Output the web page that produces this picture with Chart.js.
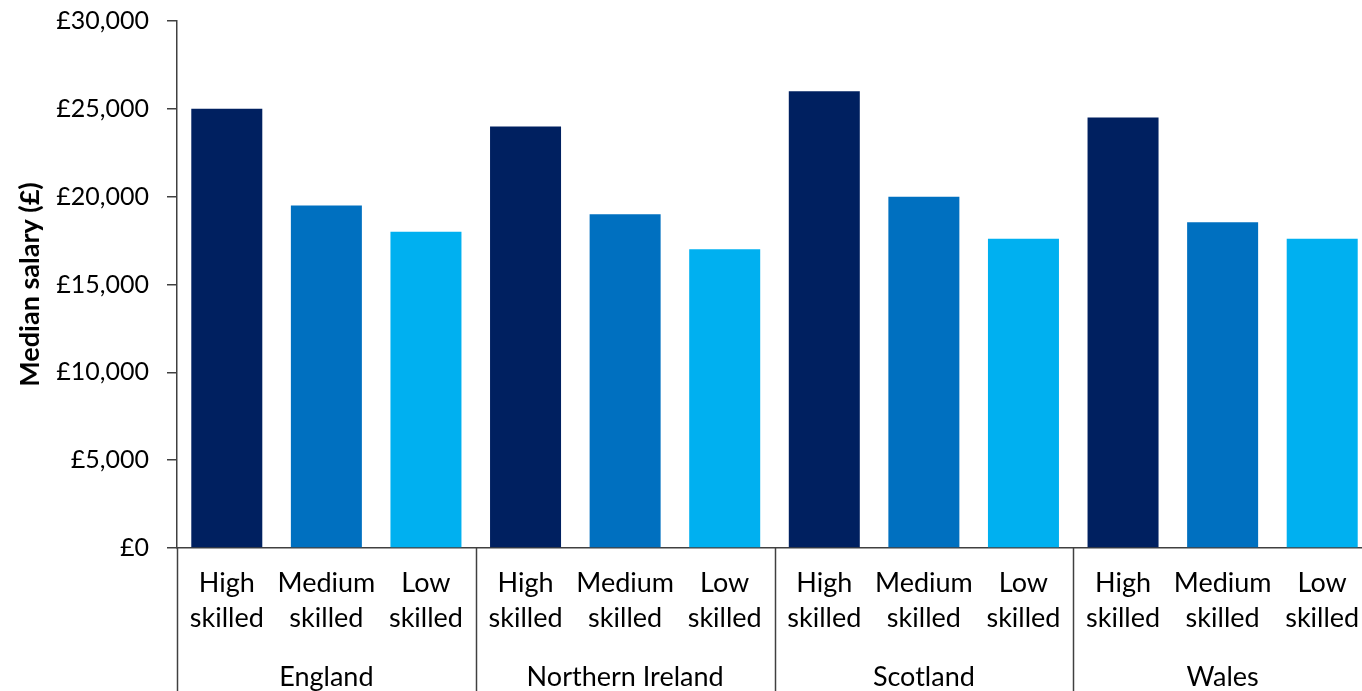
<!DOCTYPE html>
<html>
<head>
<meta charset="utf-8">
<script src="https://cdn.jsdelivr.net/npm/chart.js@4.4.2/dist/chart.umd.min.js"></script>
<style>
  html, body { margin: 0; padding: 0; background: #fff; overflow: hidden; }
  #wrap { position: relative; width: 1372px; height: 691px; }
</style>
</head>
<body>
<div id="wrap"><canvas id="chart"></canvas></div>
<script>
// Median salary by skill level and nation
const SKILLS = [['High', 'skilled'], ['Medium', 'skilled'], ['Low', 'skilled']];
const NATIONS = ['England', 'Northern Ireland', 'Scotland', 'Wales'];
const SALARIES = [
  25000, 19500, 18000,   // England
  24000, 19000, 17000,   // Northern Ireland
  26000, 20000, 17600,   // Scotland
  24500, 18550, 17600,   // Wales
];
const SKILL_COLORS = ['#002060', '#0070C0', '#00B0F0'];
const Y_TICKS = [0, 5000, 10000, 15000, 20000, 25000, 30000];

const FONT = 'Lato, "Open Sans", sans-serif';
const AXIS_COLOR = '#404040';

const labels = NATIONS.flatMap(() => SKILLS);
const colors = NATIONS.flatMap(() => SKILL_COLORS);

// vertical separators between nation groups, below the axis line
const groupLines = {
  id: 'groupLines',
  afterDraw(chart) {
    const { ctx, scales: { x }, chartArea } = chart;
    const half = (x.getPixelForValue(1) - x.getPixelForValue(0)) / 2;
    ctx.save();
    ctx.strokeStyle = AXIS_COLOR;
    ctx.lineWidth = 1.5;
    for (let i = 0; i <= labels.length; i += SKILLS.length) {
      const px = Math.round(x.getPixelForValue(i) - half) + 0.5;
      ctx.beginPath();
      ctx.moveTo(px, chartArea.bottom);
      ctx.lineTo(px, chart.height);
      ctx.stroke();
    }
    ctx.restore();
  },
};

new Chart(document.getElementById('chart'), {
  type: 'bar',
  data: {
    labels,
    datasets: [{
      data: SALARIES,
      backgroundColor: colors,
      borderWidth: 0,
      barPercentage: 0.713,
      categoryPercentage: 1,
    }],
  },
  plugins: [groupLines],
  options: {
    responsive: true, maintainAspectRatio: false, animation: false,
    layout: { padding: { top: 21, left: 0, right: 0, bottom: 0 } },
    plugins: { legend: { display: false }, tooltip: { enabled: false } },
    scales: {
      x: {
        grid: { display: false },
        border: { display: true, color: AXIS_COLOR, width: 1.5 },
        ticks: {
          color: '#000', maxRotation: 0, autoSkip: false, padding: 10,
          font: { family: FONT, size: 27, lineHeight: 1.3 },
        },
        afterFit: s => { s.height = 88; },
      },
      x2: {
        type: 'category',
        labels: NATIONS,
        position: 'bottom',
        offset: true,
        grid: { display: false },
        border: { display: false },
        ticks: {
          color: '#000', maxRotation: 0, autoSkip: false, padding: 17,
          font: { family: FONT, size: 27 },
        },
        afterFit: s => { s.height = 55; },
      },
      y: {
        min: 0, max: 30000,
        afterBuildTicks: s => { s.ticks = Y_TICKS.map(v => ({ value: v })); },
        grid: {
          display: true, drawOnChartArea: false, drawTicks: true,
          tickLength: 10, color: AXIS_COLOR, lineWidth: 1.5,
        },
        border: { display: true, color: AXIS_COLOR, width: 1.5 },
        ticks: {
          color: '#000', padding: 18,
          font: { family: FONT, size: 25 },
          callback: v => '£' + Number(v).toLocaleString('en-GB'),
        },
        title: {
          display: true, text: 'Median salary (£)', color: '#000',
          font: { family: FONT, size: 27, weight: 'bold' },
          padding: { top: 14, bottom: 0 },
        },
        afterFit: s => { s.width = 177; s.paddingTop = 0; s.paddingBottom = 0; },
      },
    },
  },
});
</script>
</body>
</html>
